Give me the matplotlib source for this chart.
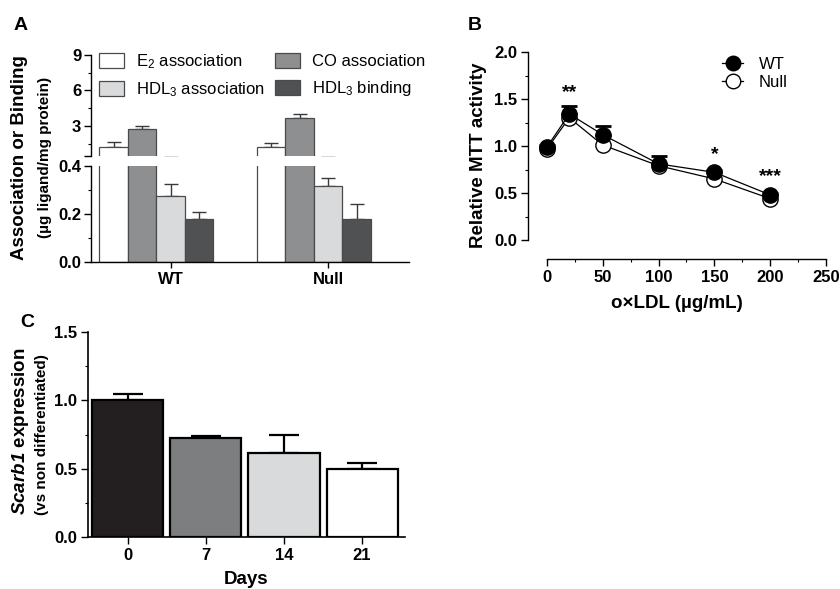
import matplotlib
matplotlib.use("Agg")
import matplotlib.pyplot as plt
import numpy as np
from matplotlib.ticker import MultipleLocator, FixedLocator
from matplotlib.patches import Patch

plt.rcParams['font.family'] = ['Liberation Sans', 'DejaVu Sans']
plt.rcParams['mathtext.fontset'] = 'custom'
plt.rcParams['mathtext.rm'] = 'Liberation Sans'
plt.rcParams['mathtext.it'] = 'Liberation Sans:italic'
plt.rcParams['mathtext.bf'] = 'Liberation Sans:bold'
plt.rcParams['mathtext.bfit'] = 'Liberation Sans:italic:bold'

# ---------------- data ----------------
groups_A = ['WT', 'Null']
series_A = ['E$_2$ association', 'CO association', 'HDL$_3$ association', 'HDL$_3$ binding']
colors_A = ['#ffffff', '#8e8f91', '#d9dadb', '#505153']
wt_A = [1.22, 2.75, 0.275, 0.179]
null_A = [1.22, 3.68, 0.317, 0.180]
wt_err_A = [0.40, 0.25, 0.050, 0.029]
null_err_A = [0.34, 0.32, 0.033, 0.062]

dose_B = [0, 20, 50, 100, 150, 200]
wt_B = [0.99, 1.34, 1.12, 0.81, 0.72, 0.48]
null_B = [0.97, 1.30, 1.01, 0.79, 0.65, 0.44]
wt_err_B = [0.02, 0.09, 0.09, 0.08, 0.02, 0.02]
stars_B = {20: ('**', 1.57), 150: ('*', 0.91), 200: ('***', 0.67)}

days_C = ['0', '7', '14', '21']
expr_C = [1.00, 0.725, 0.616, 0.50]
err_C = [0.05, 0.015, 0.13, 0.045]
colors_C = ['#231f20', '#7d7e80', '#d9dadb', '#ffffff']

W, H = 840, 589
fig = plt.figure(figsize=(W / 100, H / 100), dpi=100)


def ax_px(x0, y0, x1, y1):
    return fig.add_axes([x0 / W, 1 - y1 / H, (x1 - x0) / W, (y1 - y0) / H])


tick_fs = 12
lab_fs = 13.5
let_fs = 14

# ---------------- Panel A ----------------
axU = ax_px(91, 55, 409, 156)
axL = ax_px(91, 166, 409, 262)
group_offsets = [0, 5.53]
for gi, (vals, errs) in enumerate([(wt_A, wt_err_A), (null_A, null_err_A)]):
    xs = np.arange(4) + group_offsets[gi]
    for ax in (axU, axL):
        ax.bar(xs, vals, width=1.0, color=colors_A, edgecolor='#4a4a4a', linewidth=0.9, zorder=2)
        ax.errorbar(xs, vals, yerr=[np.zeros(4), errs], fmt='none', ecolor='#3a3a3a',
                    elinewidth=1.0, capsize=5, capthick=1.0, zorder=1)

for ax in (axU, axL):
    ax.set_xlim(-0.79, 10.37)
    for s in ('top', 'right'):
        ax.spines[s].set_visible(False)
    ax.spines['left'].set_linewidth(1.0)
    ax.tick_params(axis='y', labelsize=tick_fs, width=1.0, length=4, pad=2)

axU.set_ylim(0.45, 9)
axU.spines['bottom'].set_visible(False)
axU.set_xticks([])
axU.yaxis.set_major_locator(FixedLocator([0.45, 3, 6, 9]))
axU.set_yticklabels(['', '3', '6', '9'], fontweight='bold', fontsize=tick_fs)
axU.yaxis.set_minor_locator(FixedLocator([1.5, 4.5, 7.5]))
axU.tick_params(axis='y', which='minor', length=2.5, width=0.8)
axU.tick_params(axis='y', which='major', length=5)

axL.set_ylim(0, 0.4)
axL.set_yticks([0, 0.2, 0.4])
axL.set_yticklabels(['0.0', '0.2', '0.4'], fontweight='bold', fontsize=tick_fs)
axL.yaxis.set_minor_locator(MultipleLocator(0.1))
axL.tick_params(axis='y', which='minor', length=2.5, width=0.8)
axL.tick_params(axis='y', which='major', length=5)
axL.spines['bottom'].set_linewidth(1.0)
axL.set_xticks([2, 2 + group_offsets[1]])
axL.set_xticklabels(groups_A, fontweight='bold', fontsize=tick_fs)
axL.tick_params(axis='x', length=4, width=1.0, pad=3)

handles = [Patch(facecolor=c, edgecolor='#4a4a4a', linewidth=0.9) for c in colors_A]
order = [0, 2, 1, 3]
axU.legend([handles[i] for i in order], [series_A[i] for i in order], ncol=2,
           loc='upper left', bbox_to_anchor=(-0.005, 1.13), frameon=False, fontsize=12,
           handlelength=1.5, handleheight=1.0, handletextpad=0.7, columnspacing=0.6,
           labelspacing=0.6, borderaxespad=0.2)

fig.text(20 / W, 1 - 158 / H, 'Association or Binding', rotation=90, ha='center', va='center',
         fontsize=lab_fs, fontweight='bold')
fig.text(45 / W, 1 - 157 / H, '(µg ligand/mg protein)', rotation=90, ha='center', va='center',
         fontsize=11, fontweight='bold')
fig.text(14 / W, 1 - 25 / H, 'A', fontsize=let_fs, fontweight='bold', ha='left', va='center')

# ---------------- Panel B ----------------
axB = ax_px(528, 52, 826, 259)
axB.plot(dose_B, null_B, color='black', lw=0.9, marker='o', ms=11, mfc='white', mec='black',
         mew=1.0, zorder=2, label='Null')
axB.errorbar(dose_B, wt_B, yerr=[np.zeros(len(wt_B)), wt_err_B], fmt='none', ecolor='black',
             elinewidth=1.5, capsize=6, capthick=2.0, zorder=2.5)
axB.plot(dose_B, wt_B, color='black', lw=0.9, marker='o', ms=11, mfc='black', mec='black',
         mew=1.0, zorder=3, label='WT')
for xv, (txt, yv) in stars_B.items():
    axB.text(xv, yv, txt, ha='center', va='center', fontsize=14, fontweight='bold')
axB.set_xlim(-17, 250)
axB.set_ylim(-0.202, 2.0)
axB.spines['left'].set_bounds(0, 2.0)
axB.spines['bottom'].set_bounds(0, 250)
for s in ('top', 'right'):
    axB.spines[s].set_visible(False)
for s in ('left', 'bottom'):
    axB.spines[s].set_linewidth(1.0)
axB.set_yticks([0, 0.5, 1.0, 1.5, 2.0])
axB.set_yticklabels(['0.0', '0.5', '1.0', '1.5', '2.0'], fontweight='bold', fontsize=tick_fs)
axB.yaxis.set_minor_locator(MultipleLocator(0.25))
axB.set_xticks([0, 50, 100, 150, 200, 250])
axB.set_xticklabels(['0', '50', '100', '150', '200', '250'], fontweight='bold', fontsize=tick_fs)
axB.xaxis.set_minor_locator(MultipleLocator(25))
axB.tick_params(which='major', length=5, width=1.0, pad=3)
axB.tick_params(which='minor', length=2.5, width=0.8)
axB.set_ylabel('Relative MTT activity', fontsize=lab_fs, fontweight='bold', labelpad=5)
axB.set_xlabel('o×LDL (µg/mL)', fontsize=lab_fs, fontweight='bold', labelpad=7)
hB, lB = axB.get_legend_handles_labels()
axB.legend(hB[::-1], lB[::-1], loc='upper left', bbox_to_anchor=(0.6, 1.05), frameon=False,
           fontsize=12, handlelength=1.3, handletextpad=0.9, labelspacing=0.2, markerscale=0.95)
fig.text(475 / W, 1 - 25 / H, 'B', fontsize=let_fs, fontweight='bold', ha='center', va='center')

# ---------------- Panel C ----------------
axC = ax_px(88, 332, 405, 537)
xC = np.arange(len(days_C))
axC.bar(xC, expr_C, width=0.91, color=colors_C, edgecolor='black', linewidth=1.6, zorder=2)
axC.errorbar(xC, expr_C, yerr=[np.zeros(len(xC)), err_C], fmt='none', ecolor='black',
             elinewidth=1.6, capsize=11, capthick=1.6, zorder=1)
axC.set_xlim(-0.51, 3.55)
axC.set_ylim(0, 1.5)
for s in ('top', 'right'):
    axC.spines[s].set_visible(False)
for s in ('left', 'bottom'):
    axC.spines[s].set_linewidth(1.2)
axC.set_yticks([0, 0.5, 1.0, 1.5])
axC.set_yticklabels(['0.0', '0.5', '1.0', '1.5'], fontweight='bold', fontsize=tick_fs)
axC.yaxis.set_minor_locator(MultipleLocator(0.25))
axC.set_xticks(xC)
axC.set_xticklabels(days_C, fontweight='bold', fontsize=tick_fs)
axC.tick_params(which='major', length=5, width=1.0, pad=3)
axC.tick_params(which='minor', length=2.5, width=0.8)
axC.set_xlabel('Days', fontsize=lab_fs, fontweight='bold', labelpad=6)
fig.text(21 / W, 1 - 431 / H, r'$\bfit{Scarb1}$ expression', rotation=90, ha='center', va='center',
         fontsize=lab_fs, fontweight='bold')
fig.text(42 / W, 1 - 435 / H, '(vs non differentiated)', rotation=90, ha='center', va='center',
         fontsize=11, fontweight='bold')
fig.text(27 / W, 1 - 322 / H, 'C', fontsize=let_fs, fontweight='bold', ha='center', va='center')

fig.savefig('out.png', dpi=100)
